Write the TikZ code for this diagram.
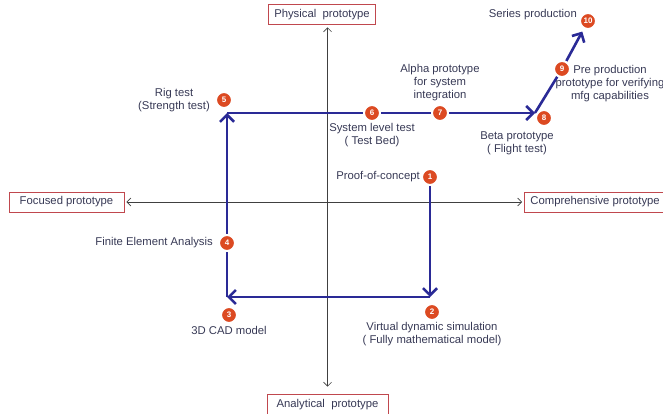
\documentclass[tikz,border=0pt]{standalone}
\usepackage{fontspec}
\setmainfont{Liberation Sans}
\usetikzlibrary{arrows.meta,positioning,backgrounds}

\definecolor{flowblue}{RGB}{42,42,150}
\definecolor{boxred}{RGB}{192,72,78}
\definecolor{txtgray}{RGB}{55,57,85}
\definecolor{stepred}{RGB}{220,74,34}

\begin{document}
\begin{tikzpicture}[x=1pt, y=-1pt, font=\fontsize{11.3}{13}\selectfont, text=txtgray, node distance=4pt]

    \tikzstyle{proto}=[draw=boxred, line width=0.8pt, fill=white, minimum height=20pt, inner xsep=6pt, inner ysep=0pt]
    \tikzstyle{stepno}=[circle, fill=stepred, draw=white, line width=2pt, inner sep=0pt, minimum size=16pt, text=white, font=\fontsize{8}{8}\selectfont\bfseries]
    \tikzstyle{axis}=[{Straight Barb[length=4pt,width=8pt]}-{Straight Barb[length=4pt,width=8pt]}, draw=black!75, line width=0.6pt]
    \tikzstyle{flow}=[-{Straight Barb[length=7pt,width=14pt]}, draw=flowblue, line width=2.6pt]
    \tikzstyle{lbl}=[align=center, inner sep=1pt]

    \useasboundingbox (0,0) rectangle (663,414);

    % prototype boxes
    \node[proto, minimum width=98pt]  (phys) at (322,14.5) {Physical\ \ prototype};
    \node[proto, minimum width=121pt, minimum height=22pt] (anal) at (327.5,405) {Analytical\ \ prototype};
    \node[proto, minimum width=115pt] (foc)  at (66.5,202) {Focused prototype};
    \node[proto, anchor=west] (comp) at (524,202) {Comprehensive prototype};

    % steps
    \node[stepno] (s1)  at (430,177) {1};
    \node[stepno] (s2)  at (432,312) {2};
    \node[stepno] (s3)  at (229,315) {3};
    \node[stepno] (s4)  at (227,243) {4};
    \node[stepno] (s5)  at (224,100) {5};
    \node[stepno] (s6)  at (372,113) {6};
    \node[stepno] (s7)  at (440,113) {7};
    \node[stepno] (s8)  at (544,118) {8};
    \node[stepno] (s9)  at (562,69)  {9};
    \node[stepno] (s10) at (588,21)  {10};

    \coordinate (c2) at (430,297);
    \coordinate (c3) at (227,297);
    \coordinate (c5) at (227,113);
    \coordinate (c8) at (535,113);

    % labels
    \node[lbl, left=0pt of s1]  (l1)  {Proof-of-concept};
    \node[lbl, below=0pt of s2] (l2)  {Virtual dynamic simulation\\( Fully mathematical model)};
    \node[lbl, below=1pt of s3] (l3)  {3D CAD model};
    \node[lbl, left=4pt of s4]  (l4)  {Finite Element Analysis};
    \node[lbl, left=4pt of s5]  (l5)  {Rig test\\(Strength test)};
    \node[lbl, below=0pt of s6] (l6)  {System level test\\( Test Bed)};
    \node[lbl, above=2pt of s7] (l7)  {Alpha prototype\\for system\\integration};
    \node[lbl] (l8) at (517,143) {Beta prototype\\( Flight test)};
    \node[lbl] (l9) at (610,84)  {Pre production\\prototype for verifying\\mfg capabilities};
    \node[lbl, left=1pt of s10, yshift=6pt] (l10) {Series production};

    \begin{scope}[on background layer]
    \draw[axis, shorten <=2.5pt, shorten >=7pt] (phys.south -| anal.north) -- (anal.north);
    \draw[axis, shorten <=2pt, shorten >=2pt] (foc) -- (comp);

    \draw[flow] (s1) -- (c2);
    \draw[flow] (c2) -- (c3);
    \draw[flow] (c3) -- (c5);
    \draw[flow] (c5) -- (c8);
    \draw[flow, -] (c8) -- (s9);
    \draw[flow, shorten >=3pt] (s9) -- (s10);
    \end{scope}

\end{tikzpicture}
\end{document}
